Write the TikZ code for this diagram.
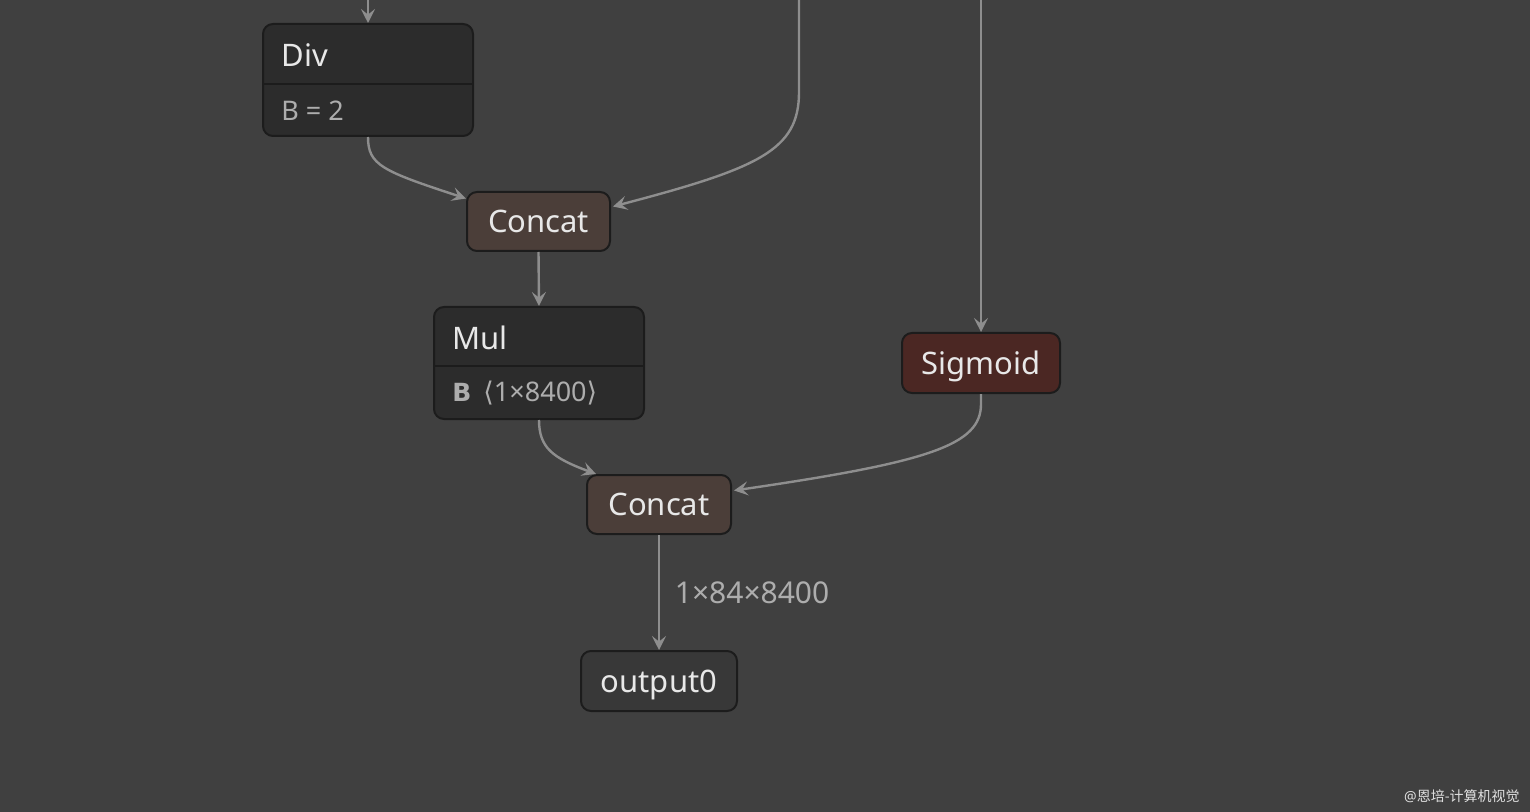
\documentclass[tikz,border=0pt]{standalone}
\usepackage{fontspec}
\setmainfont{Noto Sans}
\newfontfamily\cjkfont{Noto Sans CJK SC}
\newfontfamily\symfont{DejaVu Sans}
\usetikzlibrary{calc, positioning, arrows.meta}
\definecolor{bgcol}{HTML}{404040}
\definecolor{opfill}{HTML}{2C2C2C}
\definecolor{opline}{HTML}{1C1C1C}
\definecolor{catfill}{HTML}{4B3E39}
\definecolor{actfill}{HTML}{4B2723}
\definecolor{outfill}{HTML}{383838}
\definecolor{edgecol}{HTML}{8E8E8E}
\definecolor{titlecol}{HTML}{E8E8E8}
\definecolor{attrcol}{HTML}{ADADAD}
\tikzset{
  opbox/.style={draw=opline, line width=1pt, rounded corners=5pt, inner sep=0pt},
  opname/.style={opbox, text=titlecol, font=\fontsize{15.5}{18}\selectfont, text height=11pt, text depth=0pt},
  optitle/.style={anchor=west, text=titlecol, font=\fontsize{15.5}{18}\selectfont, inner sep=0pt},
  opattr/.style={anchor=west, text=attrcol, font=\fontsize{13.5}{16}\selectfont, inner sep=0pt},
  edge/.style={draw=edgecol, line width=1.2pt, ->}
}
\begin{document}
\begin{tikzpicture}[x=0.5pt, y=-0.5pt, >={Stealth[length=7pt, width=7pt, inset=2.8pt]}]
  \fill [bgcol] (0,0) rectangle (1530,812);
  \useasboundingbox (0,0) rectangle (1530,812);
  % free ends at the top
  \coordinate (inA) at (368,0);
  \coordinate (inB) at (799,0);
  \coordinate (inC) at (981,0);
  % Div
  \node (div) at (368,80) [opbox, fill=opfill, minimum width=105pt, minimum height=56pt] {};
  \draw [opline, line width=1pt] (div.west |- 0,84) -- (div.east |- 0,84);
  \node (divname) at (281,55) [optitle] {Div};
  \node (divattr) at (281,111) [opattr] {B = 2};
  % first Concat
  \node (catA) at (538.5,221.5) [opname, fill=catfill, minimum width=71.5pt, minimum height=29.5pt] {Concat};
  % Mul
  \node (mul) at (539,363) [opbox, fill=opfill, minimum width=105pt, minimum height=56pt] {};
  \draw [opline, line width=1pt] (mul.west |- 0,366) -- (mul.east |- 0,366);
  \node (mulname) at (452,338) [optitle] {Mul};
  \node (mulattr) at (452,393) [opattr] {{\symfont\bfseries\fontsize{12.5}{15}\selectfont B}\hspace{6pt}{\symfont ⟨}1×8400{\symfont ⟩}};
  % Sigmoid
  \node (sig) at (981,363) [opname, fill=actfill, minimum width=79pt, minimum height=30pt] {Sigmoid};
  % second Concat
  \node (catB) at (659,504.5) [opname, fill=catfill, minimum width=72pt, minimum height=29.5pt] {Concat};
  % output
  \node (out) at (659,681) [opname, fill=outfill, minimum width=78pt, minimum height=30pt] {output0};
  % connectors
  \draw [edge] (inA) -- (div.north);
  \draw [edge] (div.south) .. controls ($(div.south)+(0,28)$) and ($(div.south)+(14,34)$) .. ($(catA.west)+(0,-23)$);
  \draw [edge] (inB) -- (799,92) .. controls (799,150) and (760,168) .. ($(catA.east)+(2,-15)$);
  \draw [edge] (catA.south) -- (mul.north);
  \draw [edge] (inC) -- (sig.north);
  \draw [edge] (mul.south) .. controls ($(mul.south)+(0,28)$) and ($(mul.south)+(14,38)$) .. ($(catB.north west)+(10,0)$);
  \draw [edge] (sig.south) -- ++(0,10) .. controls (981,445) and (930,462) .. ($(catB.east)+(2,-14)$);
  \draw [edge] (catB.south) -- node (shape) [right=4pt, text=attrcol, font=\fontsize{15}{18}\selectfont] {1×84×8400} (out.north);
  % watermark
  \node (mark) at (1520,796) [anchor=east, inner sep=0pt, text=white!88!black, font=\fontsize{7}{8}\selectfont] {@{\cjkfont 恩培-计算机视觉}};
\end{tikzpicture}
\end{document}
